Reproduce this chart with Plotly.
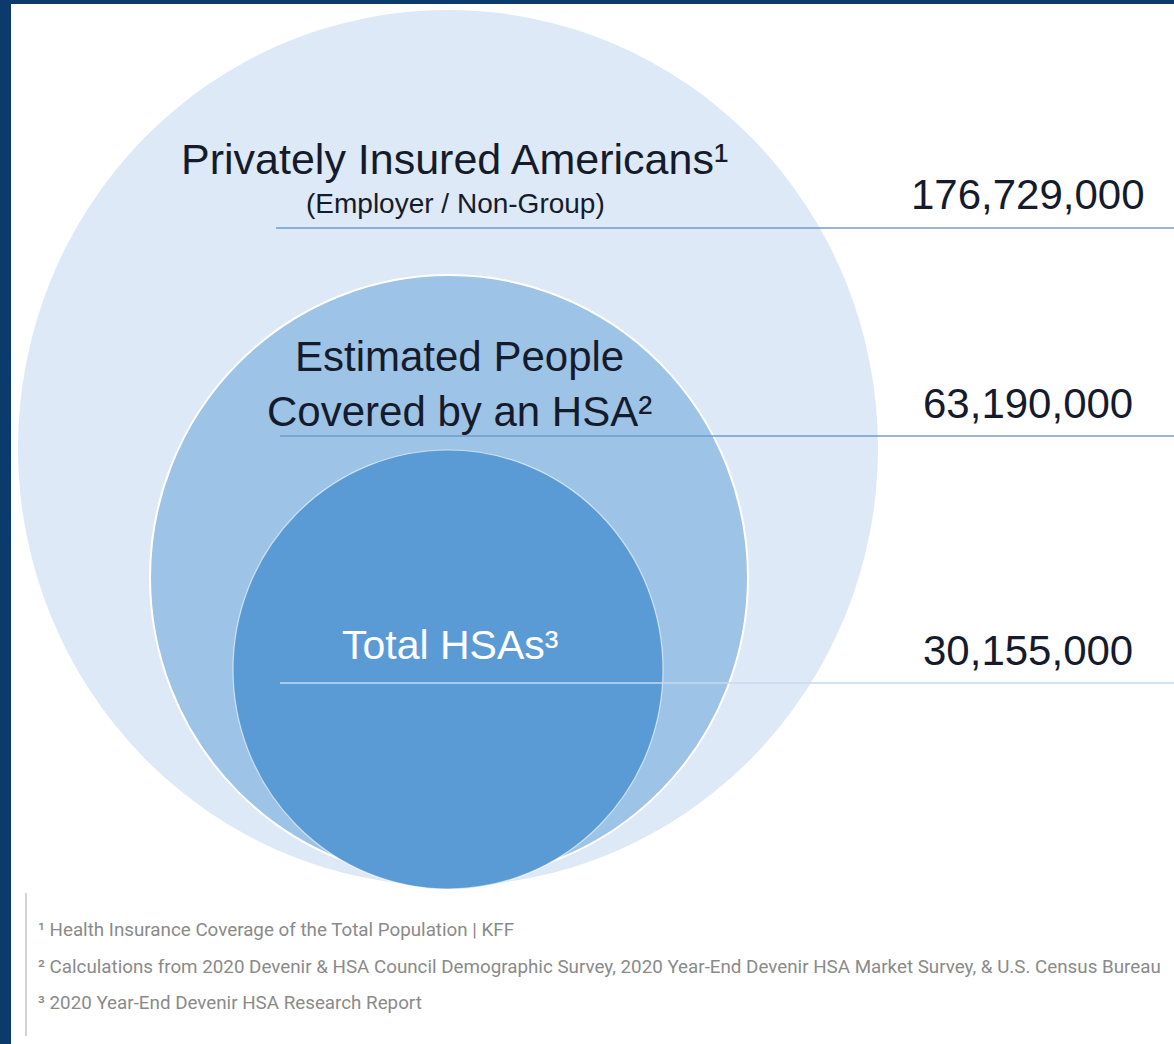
import plotly.graph_objects as go

# ---- data ----
categories = ["Privately Insured Americans", "Estimated People Covered by an HSA", "Total HSAs"]
values = [176729000, 63190000, 30155000]
footnote_marks = ["¹", "²", "³"]
subtitle = "(Employer / Non-Group)"
footnotes = [
    "Health Insurance Coverage of the Total Population | KFF",
    "Calculations from 2020 Devenir & HSA Council Demographic Survey, 2020 Year-End Devenir HSA Market Survey, & U.S. Census Bureau",
    "2020 Year-End Devenir HSA Research Report",
]

# ---- layout / style ----
W, H = 1174, 1044
NAVY = "#0B3A6C"
circle_boxes = [(18, 10, 878, 886), (150, 275, 748, 880), (233, 450, 663, 889)]
circle_fill = ["#DDE9F6", "#9DC3E6", "#5B9BD5"]
circle_line = [("rgba(0,0,0,0)", 0), ("white", 2), ("rgba(255,255,255,0.6)", 1.2)]
ref_lines = [(276, 228, "#6F9CCB"), (280, 436, "#6F9CCB"), (280, 683, "#C6DAEE")]
num_y = [194, 403, 650]
num_x = 1028
TXT = "#151B2B"
FONT = "Liberation Sans, Arial, sans-serif"

fig = go.Figure()
fig.add_trace(go.Scatter(x=[0, W], y=[0, H], mode="markers", marker=dict(opacity=0), hoverinfo="skip", showlegend=False))

shapes = []
# navy frame
shapes.append(dict(type="rect", x0=0, x1=W, y0=0, y1=4, fillcolor=NAVY, line=dict(width=0), layer="below"))
shapes.append(dict(type="rect", x0=0, x1=11, y0=0, y1=H, fillcolor=NAVY, line=dict(width=0), layer="below"))
for (x0, y0, x1, y1), fc, (lc, lw) in zip(circle_boxes, circle_fill, circle_line):
    shapes.append(dict(type="circle", x0=x0, x1=x1, y0=y0, y1=y1, fillcolor=fc,
                       line=dict(color=lc, width=lw), layer="below"))
for x0, y, c in ref_lines:
    shapes.append(dict(type="line", x0=x0, x1=W, y0=y, y1=y, line=dict(color=c, width=1.5)))
# footnote bar
shapes.append(dict(type="line", x0=26, x1=26, y0=893, y1=1036, line=dict(color="#D4D4D4", width=2)))

ann = []
ann.append(dict(x=454, y=159, text=categories[0] + footnote_marks[0],
                font=dict(family=FONT, size=43, color=TXT)))
ann.append(dict(x=455, y=203, text=subtitle, font=dict(family=FONT, size=28, color=TXT)))
ann.append(dict(x=459, y=384, text="Estimated People<br>Covered by an HSA" + footnote_marks[1],
                font=dict(family=FONT, size=42, color=TXT), align="center"))
ann.append(dict(x=450, y=645, text=categories[2] + footnote_marks[2],
                font=dict(family=FONT, size=41, color="white")))
for v, y in zip(values, num_y):
    ann.append(dict(x=num_x, y=y, text=f"{v:,}", font=dict(family=FONT, size=42, color=TXT)))
for i, (m, t) in enumerate(zip(footnote_marks, footnotes)):
    ann.append(dict(x=36, y=930 + i * 36.5, text=m + " " + t, xanchor="left",
                    font=dict(family="Roboto, sans-serif", size=18.8, color="#8A8A8A")))
for a in ann:
    a.update(xref="x", yref="y", showarrow=False)
    a.setdefault("xanchor", "center")
    a.setdefault("yanchor", "middle")

fig.update_layout(
    width=W, height=H, margin=dict(l=0, r=0, t=0, b=0),
    paper_bgcolor="white", plot_bgcolor="white",
    xaxis=dict(range=[0, W], visible=False, fixedrange=True),
    yaxis=dict(range=[H, 0], visible=False, fixedrange=True),
    shapes=shapes, annotations=ann, showlegend=False,
)
fig.write_html("out.html", config={"displayModeBar": False})
